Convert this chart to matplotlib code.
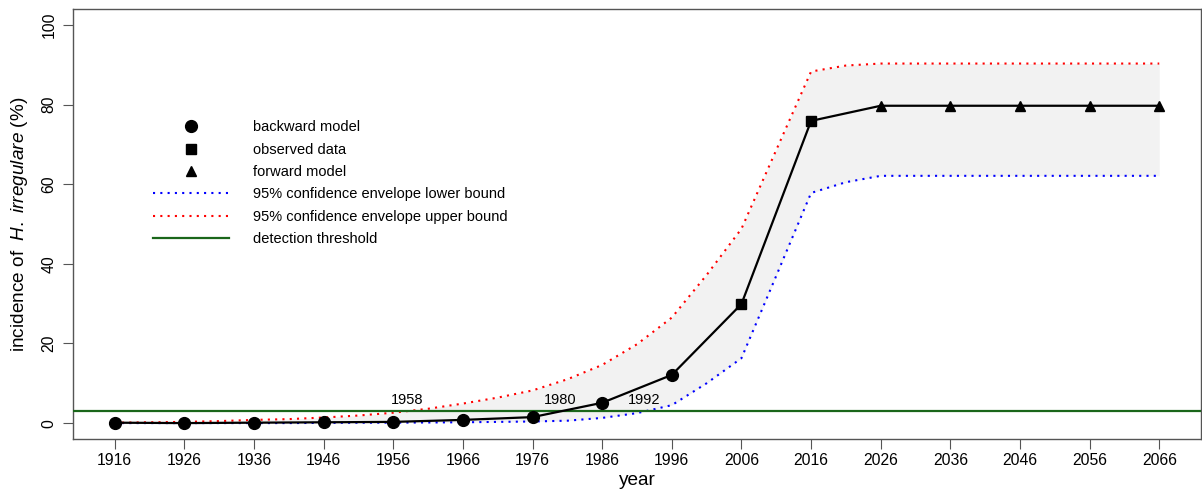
import matplotlib
matplotlib.use('Agg')
import matplotlib.pyplot as plt

plt.rcParams['font.family'] = ['Liberation Sans', 'DejaVu Sans']
plt.rcParams['mathtext.fontset'] = 'custom'
plt.rcParams['mathtext.rm'] = 'Liberation Sans'
plt.rcParams['mathtext.it'] = 'Liberation Sans:italic'

# model / data points per decade
back_years = [1916, 1926, 1936, 1946, 1956, 1966, 1976, 1986, 1996]
back_vals = [0.1, 0.0, 0.1, 0.2, 0.3, 0.8, 1.5, 5.1, 12.1]
obs_years = [2006, 2016]
obs_vals = [29.9, 75.9]
fwd_years = [2026, 2036, 2046, 2056, 2066]
fwd_vals = [79.7, 79.7, 79.7, 79.7, 79.7]

# confidence envelope, read every 5 years
env_years = list(range(1916, 2067, 5))
env_upper = [0.1, 0.2, 0.3, 0.5, 0.8, 1.0, 1.4, 1.9, 2.6, 3.6, 4.9, 6.4,
             8.2, 11.0, 14.6, 19.8, 26.5, 37.2, 48.8, 68.6, 88.3, 89.8,
             90.3, 90.3, 90.3, 90.3, 90.3, 90.3, 90.3, 90.3, 90.3]
env_lower = [0.0, 0.0, 0.0, 0.0, 0.0, 0.0, 0.05, 0.1, 0.1, 0.15, 0.2, 0.3,
             0.4, 0.6, 1.3, 2.5, 4.5, 10.0, 16.3, 37.0, 57.8, 60.5,
             62.1, 62.1, 62.1, 62.1, 62.1, 62.1, 62.1, 62.1, 62.1]

threshold = 3.0
cross_years = [1958, 1980, 1992]
xticks = list(range(1916, 2067, 10))
yticks = [0, 20, 40, 60, 80, 100]

fig = plt.figure(figsize=(12.02, 4.92), dpi=100)
ax = fig.add_axes([0.0607, 0.1077, 0.9385, 0.874])

ax.fill_between(env_years, env_lower, env_upper, color='#f2f2f2', lw=0, zorder=1)
dot = (0, (1, 2.5))
ax.plot(env_years, env_lower, color='#0000ff', lw=1.5, linestyle=dot, zorder=2,
        label='95% confidence envelope lower bound')
ax.plot(env_years, env_upper, color='#ff0000', lw=1.5, linestyle=dot, zorder=2,
        label='95% confidence envelope upper bound')
ax.axhline(threshold, color='#1a661a', lw=1.6, zorder=3, label='detection threshold')

all_years = back_years + obs_years + fwd_years
all_vals = back_vals + obs_vals + fwd_vals
ax.plot(all_years, all_vals, color='black', lw=1.6, zorder=4)
h1, = ax.plot(back_years, back_vals, 'o', color='black', ms=8.5, zorder=5, linestyle='none')
h2, = ax.plot(obs_years, obs_vals, 's', color='black', ms=6.5, zorder=5, linestyle='none')
h3, = ax.plot(fwd_years, fwd_vals, '^', color='black', ms=7.5, zorder=5, linestyle='none')

for yr in cross_years:
    ax.text(yr, threshold + 2.8, str(yr), ha='center', va='center', fontsize=10.5, zorder=6)

ax.set_xlim(1910, 2072)
ax.set_ylim(-4, 104)
ax.set_xticks(xticks)
ax.set_yticks(yticks)
ax.tick_params(axis='x', labelsize=11.3, length=7, pad=3, color='#555555')
ax.tick_params(axis='y', labelsize=11.3, length=7, pad=5, color='#555555', labelrotation=90)
for lbl in ax.get_yticklabels():
    lbl.set_va('center')
for sp in ax.spines.values():
    sp.set_color('#555555')
    sp.set_linewidth(1.0)

ax.set_xlabel('year', fontsize=13.7, labelpad=3)
ax.set_ylabel(r'incidence of  $\it{H.\ irregulare}$ (%)', fontsize=13.7, labelpad=8)

lines = ax.get_lines()
handles = [h1, h2, h3, lines[0], lines[1], lines[2]]
labels = ['backward model', 'observed data', 'forward model',
          '95% confidence envelope lower bound',
          '95% confidence envelope upper bound', 'detection threshold']
ax.legend(handles, labels, loc='upper left', bbox_to_anchor=(0.0709, 0.741),
          frameon=False, fontsize=10.5, handlelength=5.2, handletextpad=1.65,
          labelspacing=0.57, borderpad=0, borderaxespad=0)

plt.savefig('out.png', dpi=100)
